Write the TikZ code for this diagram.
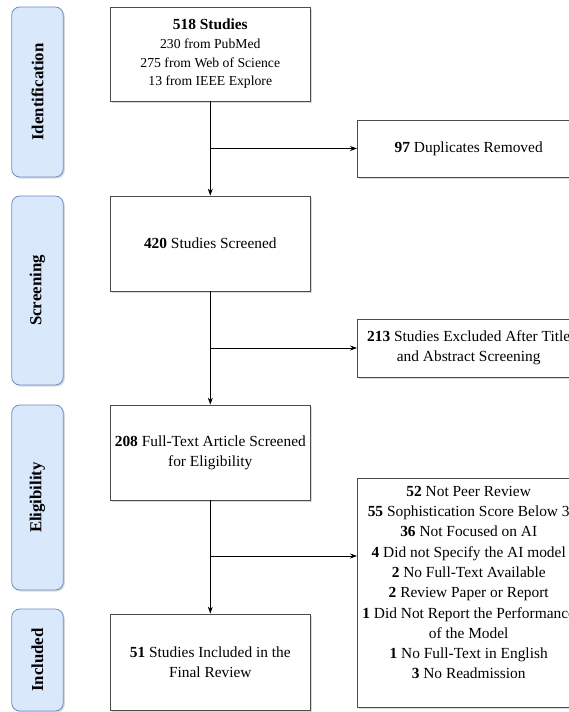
\documentclass[tikz,border=0pt]{standalone}
\usepackage{fontspec}
\setmainfont{Liberation Serif}
\usetikzlibrary{arrows.meta,shadows}
\definecolor{stagefill}{HTML}{DAE8FC}
\definecolor{stageline}{HTML}{6C8EBF}
\newcommand{\srcfont}{\fontsize{13.7}{18.7}\selectfont}
\begin{document}
\begin{tikzpicture}[x=1pt, y=1pt, >={Stealth[length=7pt, width=5pt]}, line width=0.8pt]
\tikzstyle{box}=[shape=rectangle, draw=black!70, fill=white, align=center, inner sep=3pt,
  drop shadow={shadow xshift=1.5pt, shadow yshift=-1.5pt, opacity=0.3},
  font=\fontsize{15.4}{20.3}\selectfont]
\tikzstyle{stage}=[shape=rectangle, rounded corners=8pt, draw=stageline, fill=stagefill,
  minimum width=51.5pt, drop shadow={shadow xshift=1.5pt, shadow yshift=-1.5pt, opacity=0.3},
  font=\fontsize{16.8}{19}\selectfont\bfseries]
\useasboundingbox (0,0) rectangle (569,-712);
\clip (0,0) rectangle (569,-712);
% stages
\node[stage, minimum height=170pt] (ID) at (37.5, -92) {\rotatebox{90}{Identification}};
\node[stage, minimum height=189pt] (SC) at (37.5, -290.5) {\rotatebox{90}{Screening}};
\node[stage, minimum height=185pt] (EL) at (37.5, -497.5) {\rotatebox{90}{Eligibility}};
\node[stage, minimum height=102pt] (IN) at (37.5, -660) {\rotatebox{90}{Included}};
% main flow
\node[box, font=\srcfont, minimum width=199.5pt, minimum height=94pt] (RS) at (210.3, -54)
  {{\fontsize{15.4}{18.7}\selectfont\bfseries 518 Studies}\\230 from PubMed\\275 from Web of Science\\13 from IEEE Explore};
\node[box, minimum width=199.5pt, minimum height=95pt] (SCR) at (210.3, -243.5) {\textbf{420} Studies Screened};
\node[box, minimum width=199.5pt, minimum height=95pt] (FT) at (210.3, -452.5) {\textbf{208} Full-Text Article Screened\\for Eligibility};
\node[box, minimum width=199.5pt, minimum height=96pt] (INC) at (210.3, -662) {\textbf{51} Studies Included in the\\Final Review};
% excluded
\node[box, minimum width=222.6pt, minimum height=57pt] (DUP) at (468.7, -148.5) {\textbf{97} Duplicates Removed};
\node[box, minimum width=222.6pt, minimum height=58pt] (EXA) at (468.7, -348) {\textbf{213} Studies Excluded After Title\\and Abstract Screening};
\node[box, minimum width=222.6pt, minimum height=229pt] (EXF) at (468.7, -592.5) {};
\node[align=center, anchor=north, inner sep=0pt, font=\fontsize{15.4}{20.3}\selectfont] (EXFt) at ([yshift=-8pt]EXF.north)
  {\textbf{52} Not Peer Review\\\textbf{55} Sophistication Score Below 3\\\textbf{36} Not Focused on AI\\\textbf{4} Did not Specify the AI model\\\textbf{2} No Full-Text Available\\\textbf{2} Review Paper or Report\\\textbf{1} Did Not Report the Performance\\of the Model\\\textbf{1} No Full-Text in English\\\textbf{3} No Readmission};
% connectors
\coordinate (b1) at (RS.south |- DUP.west);
\coordinate (b2) at (SCR.south |- EXA.west);
\coordinate (b3) at (210.3, -556);
\draw [->] (RS) to (SCR);
\draw [->] (SCR) to (FT);
\draw [->] (FT) to (INC);
\draw [->] (b1) to (DUP);
\draw [->] (b2) to (EXA);
\draw [->] (b3) to (b3 -| EXF.west);
\end{tikzpicture}
\end{document}
